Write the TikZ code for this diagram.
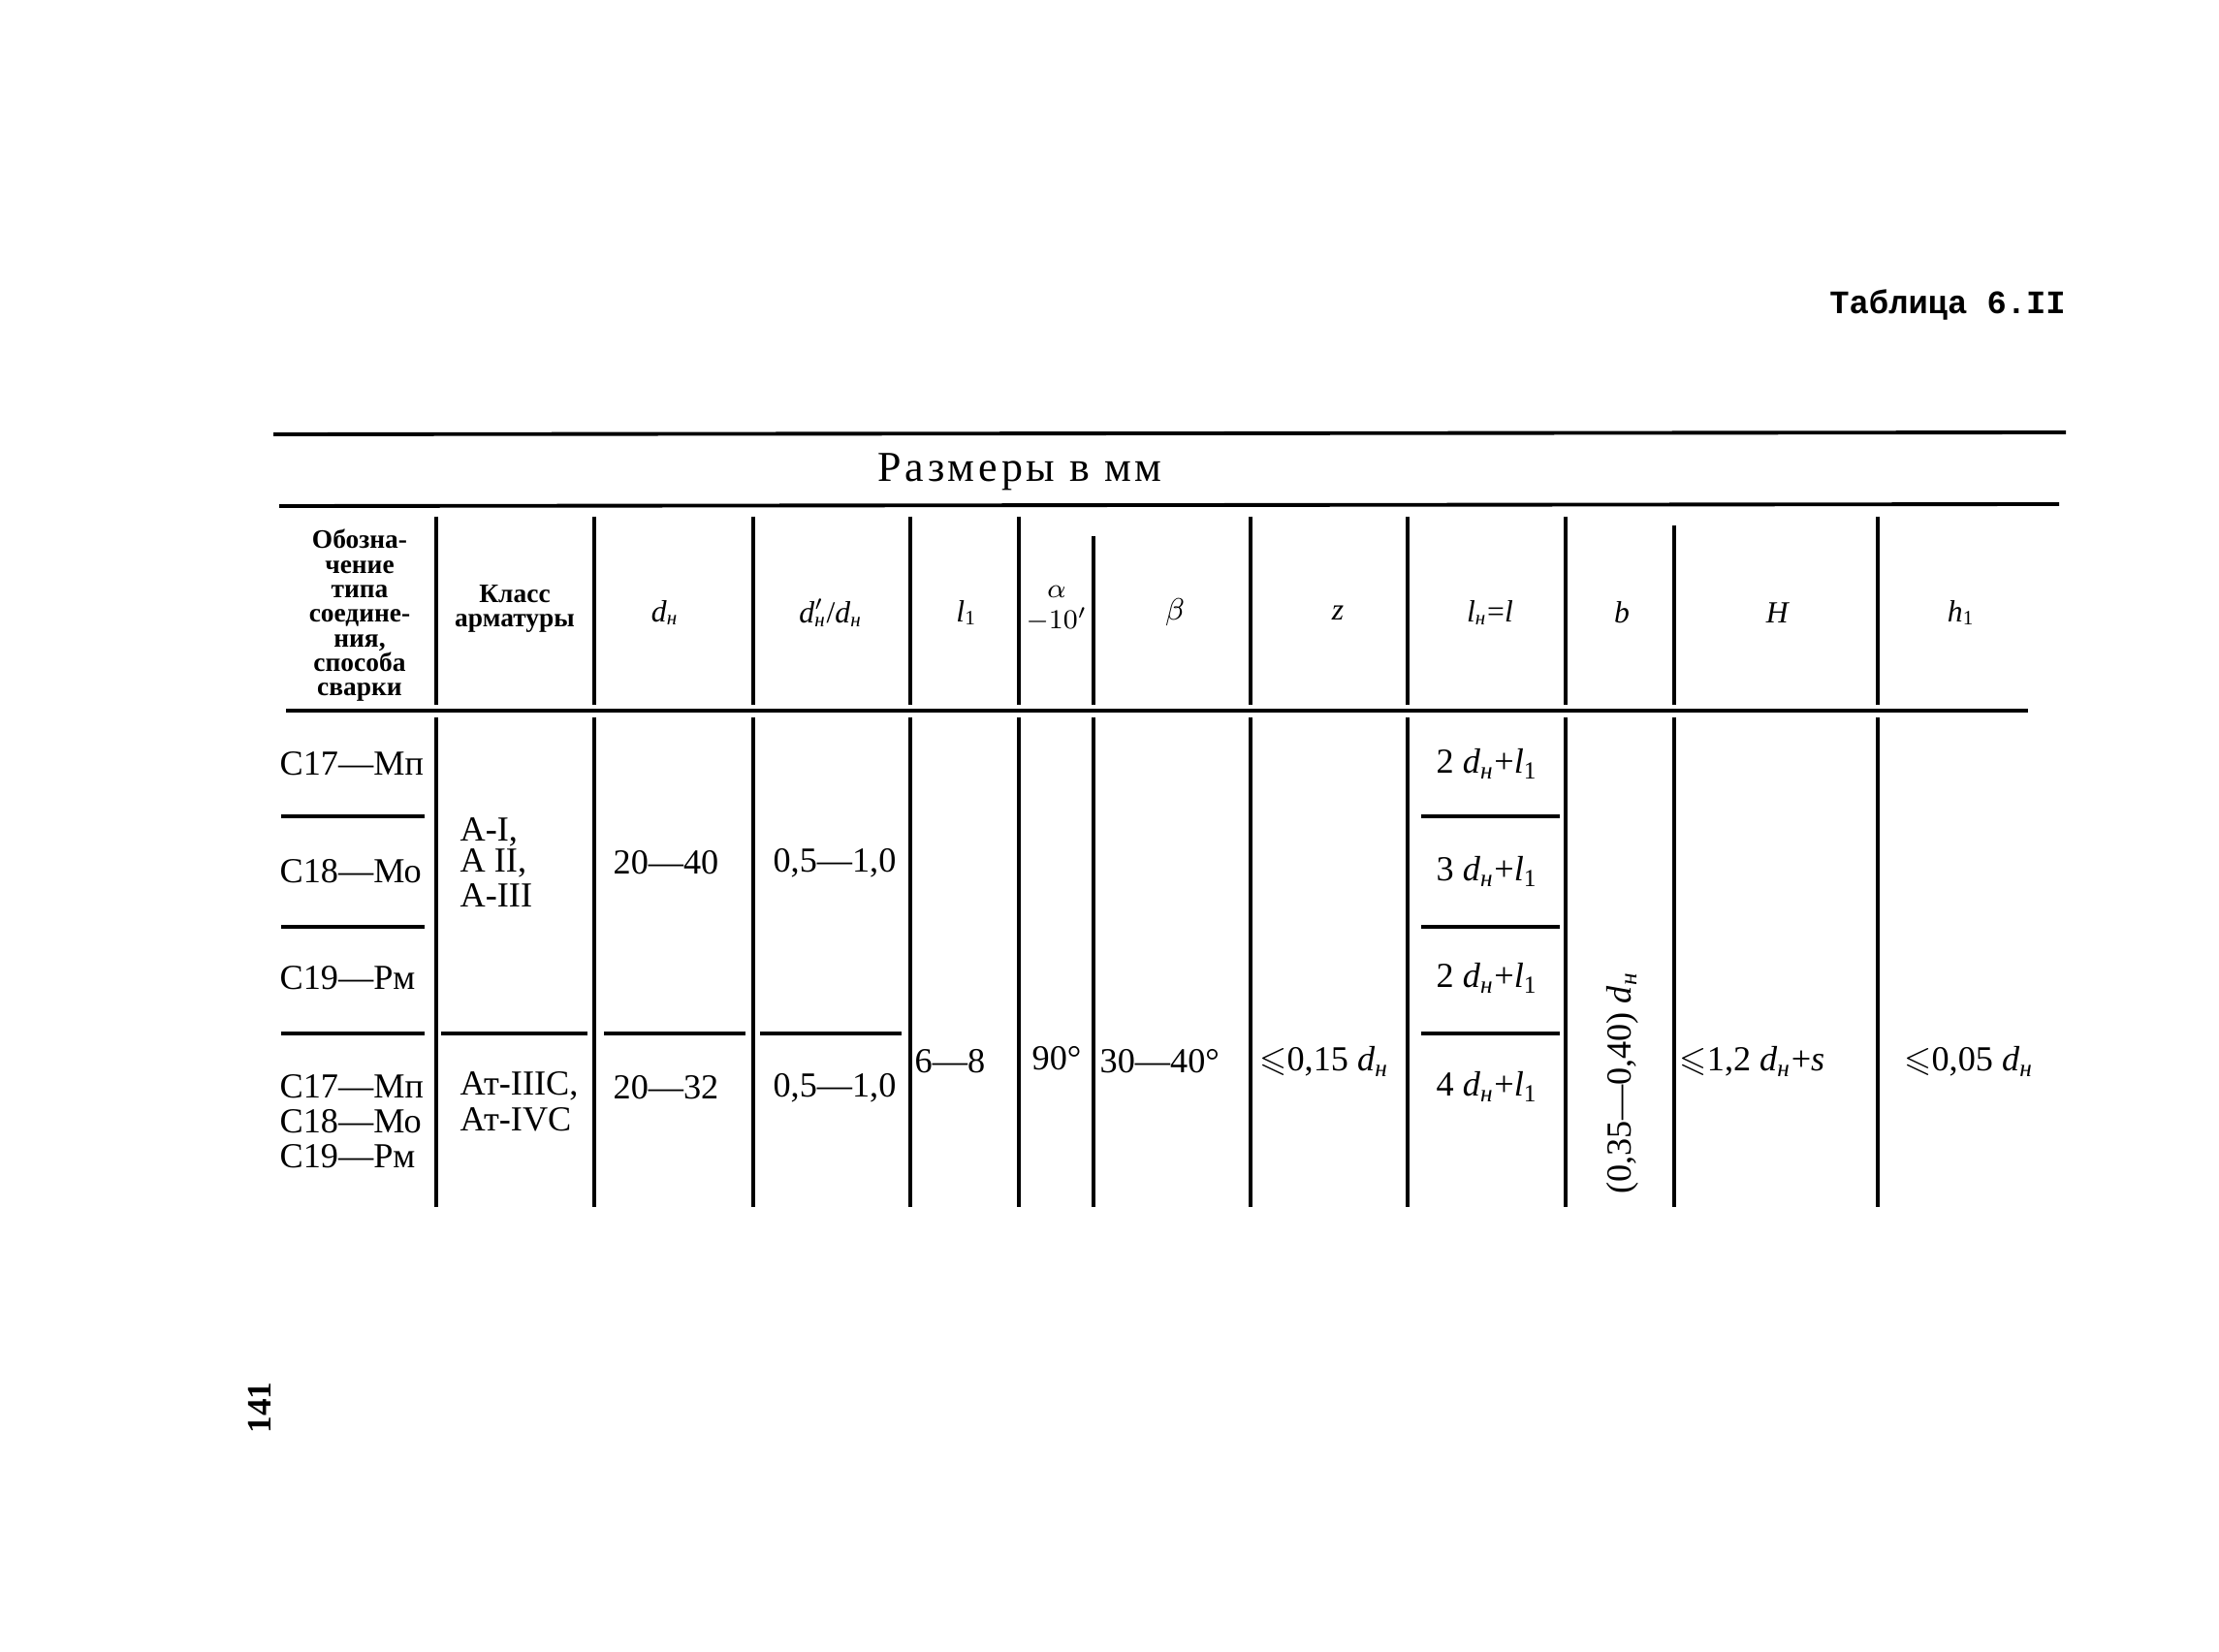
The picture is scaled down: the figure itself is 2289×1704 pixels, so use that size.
\documentclass[tikz,border=0pt]{standalone}
\usepackage{fontspec}
\usepackage{amssymb}
\setmainfont{Liberation Serif}
\newfontfamily\titlefont{Liberation Mono}
\newfontfamily\spacedfont[LetterSpace=9]{Liberation Serif}
\newcommand{\dn}{\textit{d}\textsubscript{\textit{н}}}
\newcommand{\lone}{\textit{l}\textsubscript{1}}
\begin{document}
\begin{tikzpicture}[x=0.01cm,y=-0.01cm,
  rule/.style={line width=1.1pt},
  vline/.style={line width=0.9pt},
  hline/.style={line width=0.9pt},
  body/.style={inner sep=0pt,font=\fontsize{10.3}{12}\selectfont},
  lbody/.style={body,anchor=west},
  head/.style={inner sep=0pt,align=center,font=\bfseries\fontsize{7.8}{7.2}\selectfont},
  sym/.style={inner sep=0pt,font=\fontsize{9}{10}\selectfont}]
\fill[white] (0,0) rectangle (2289,1704);
\useasboundingbox (0,0) rectangle (2289,1704);

% title
\node[inner sep=0pt,font=\titlefont\bfseries\fontsize{9.6}{11}\selectfont] (title) at (2009,314) {Таблица 6.II};

% rules
\draw[rule] (282,448) -- (2131,446);
\node[inner sep=0pt,font=\spacedfont\fontsize{12.5}{14}\selectfont] (units) at (1052,487) {Размеры в мм};
\draw[rule] (288,522) -- (2124,520);
\draw[rule] (295,733) -- (2092,733);

% vertical lines (header)
\foreach \x in {450,613,777,939,1051,1290,1452}{
  \draw[vline] (\x,533) -- (\x,727);
}
\draw[vline] (1128,553) -- (1128,727);
\draw[vline] (1615,533) -- (1615,727);
\draw[vline] (1727,542) -- (1727,727);
\draw[vline] (1937,533) -- (1937,727);
% vertical lines (body)
\foreach \x in {450,613,777,939,1051,1128,1290,1452,1615,1727,1937}{
  \draw[vline] (\x,740) -- (\x,1245);
}

% row rules
\foreach \y in {842,956,1066}{
  \draw[hline] (290,\y) -- (438,\y);
  \draw[hline] (1466,\y) -- (1609,\y);
}
\draw[hline] (455,1066) -- (606,1066);
\draw[hline] (623,1066) -- (769,1066);
\draw[hline] (784,1066) -- (930,1066);

% header
\node[head] (h1) at (371,635) {Обозна-\\чение\\типа\\соедине-\\ния,\\способа\\сварки};
\node[head] (h2) at (531,628) {Класс\\арматуры};
\node[sym] (h3) at (686,632) {\dn};
\node[sym] (h4) at (857,632) {\textit{d}\rlap{\textsuperscript{$\prime$}}\textsubscript{\textit{н}}/\textit{d}\textsubscript{\textit{н}}};
\node[sym] (h5) at (997,632) {\lone};
\node[sym,align=center,font=\fontsize{8}{9}\selectfont] (h6) at (1090,628) {$\alpha$\\$-10'$};
\node[sym] (h7) at (1212,632) {$\beta$};
\node[sym] (h8) at (1380,632) {\textit{z}};
\node[sym] (h9) at (1537,632) {\textit{l}\textsubscript{\textit{н}}=\textit{l}};
\node[sym] (h10) at (1673,632) {\textit{b}};
\node[sym] (h11) at (1834,632) {\textit{H}};
\node[sym] (h12) at (2023,632) {\textit{h}\textsubscript{1}};

% first column
\node[lbody] (r1) at (288,788) {С17—Мп};
\node[lbody] (r2) at (288,899) {С18—Мо};
\node[lbody] (r3) at (288,1009) {С19—Рм};
\node[lbody] (r4a) at (288,1121) {С17—Мп};
\node[lbody] (r4b) at (288,1157) {С18—Мо};
\node[lbody] (r4c) at (288,1193) {С19—Рм};

% class
\node[lbody] (c1a) at (474,858) {А-I,};
\node[lbody] (c1b) at (474,890) {А II,};
\node[lbody] (c1c) at (474,924) {А-III};
\node[lbody] (c2a) at (474,1120) {Ат-IIIС,};
\node[lbody] (c2b) at (474,1155) {Ат-IVС};

% dn
\node[body] (d1) at (687,890) {20—40};
\node[body] (d2) at (687,1122) {20—32};
\node[body] (q1) at (861,890) {0,5—1,0};
\node[body] (q2) at (861,1122) {0,5—1,0};

% common values
\node[lbody] (l1v) at (943,1095) {6—8};
\node[body] (av) at (1090,1092) {90°};
\node[lbody] (bv) at (1134,1095) {30—40°};
\node[body] (zv) at (1366,1095) {$\leqslant$0,15 \dn};

% ln = l
\node[body] (ln1) at (1534,788) {2 \dn+\lone};
\node[body] (ln2) at (1534,899) {3 \dn+\lone};
\node[body] (ln3) at (1534,1009) {2 \dn+\lone};
\node[body] (ln4) at (1534,1121) {4 \dn+\lone};

% b, H, h1
\node[body,rotate=90] (bval) at (1674,1117) {(0,35—0,40) \dn};
\node[lbody] (Hv) at (1732,1095) {$\leqslant$1,2 \dn+\textit{s}};
\node[body] (h1v) at (2031,1095) {$\leqslant$0,05 \dn};

% page number
\node[inner sep=0pt,rotate=90,font=\bfseries\fontsize{10}{11}\selectfont] (page) at (268,1452) {141};
\end{tikzpicture}
\end{document}
